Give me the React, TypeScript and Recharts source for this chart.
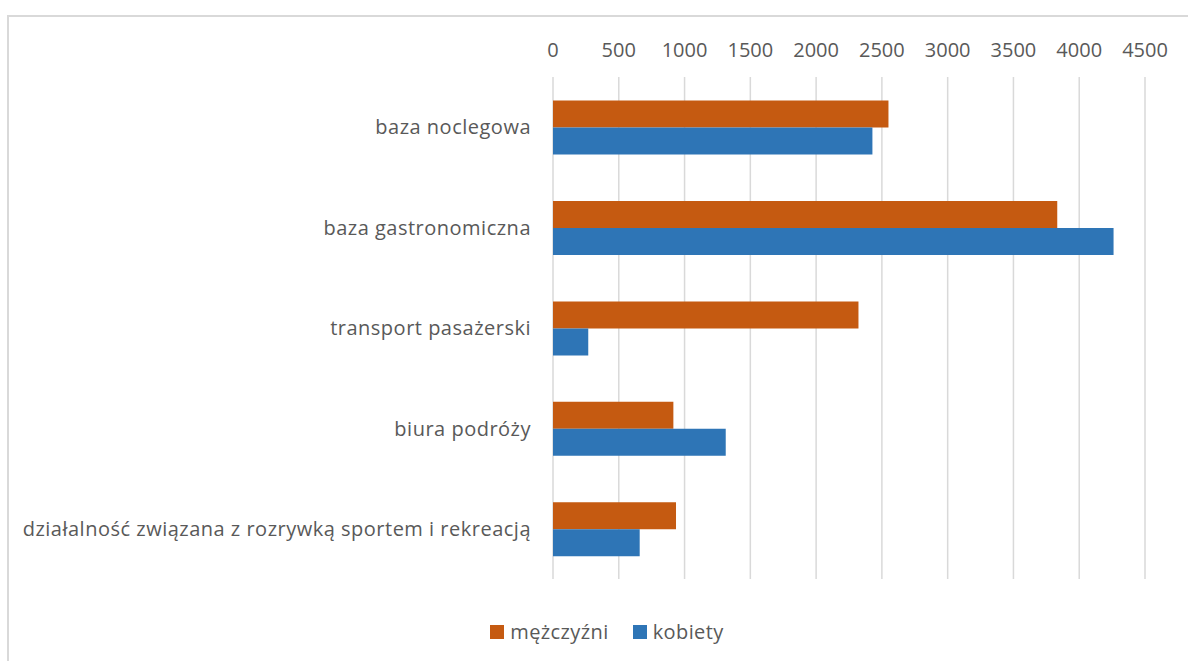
import React from "react";
import { BarChart, Bar, XAxis, YAxis, CartesianGrid } from "recharts";

const categories = [
  "baza noclegowa",
  "baza gastronomiczna",
  "transport pasażerski",
  "biura podróży",
  "działalność związana z rozrywką sportem i rekreacją",
];
const mezczyzni = [2550, 3833, 2322, 915, 935];
const kobiety = [2428, 4261, 268, 1313, 659];
const xTicks = [0, 500, 1000, 1500, 2000, 2500, 3000, 3500, 4000, 4500];
const seriesNames = ["mężczyźni", "kobiety"];

const ORANGE = "#C55A11";
const BLUE = "#2E75B6";
const TEXT = "#595959";
const FONT = "'Open Sans', sans-serif";

const data = categories.map((name, i) => ({
  name,
  [seriesNames[0]]: mezczyzni[i],
  [seriesNames[1]]: kobiety[i],
}));

function ChartLegend() {
  const colors = [ORANGE, BLUE];
  return (
    <div
      style={{
        position: "absolute",
        top: 603,
        left: 0,
        width: 1196,
        display: "flex",
        justifyContent: "center",
        fontFamily: FONT,
        fontSize: 20,
        letterSpacing: 0.4,
        color: TEXT,
        lineHeight: "24px",
      }}
    >
      {seriesNames.map((label, i) => (
        <div key={label} style={{ display: "flex", alignItems: "center", marginLeft: i ? 24 : 0 }}>
          <span style={{ width: 14, height: 14, background: colors[i], marginRight: 6, display: "inline-block" }} />
          <span>{label}</span>
        </div>
      ))}
    </div>
  );
}

export default function App() {
  return (
    <div
      style={{
        position: "absolute",
        left: 7,
        top: 15,
        width: 1181,
        height: 646,
        borderTop: "2px solid #d9d9d9",
        borderLeft: "2px solid #d9d9d9",
        overflow: "hidden",
        background: "#fff",
      }}
    >
      <BarChart
        width={1200}
        height={680}
        data={data}
        layout="vertical"
        margin={{ top: 20, right: 64, bottom: 118, left: 0 }}
        barCategoryGap="23.5%"
        barGap={0}
      >
        <CartesianGrid horizontal={false} stroke="#d9d9d9" strokeWidth={1.5} />
        <XAxis
          type="number"
          orientation="top"
          domain={[0, 4500]}
          ticks={xTicks}
          height={40}
          axisLine={false}
          tickLine={false}
          tickSize={0}
          tickMargin={20}
          tick={{ fontSize: 20, fill: TEXT, fontFamily: FONT }}
        />
        <YAxis
          type="category"
          dataKey="name"
          width={544}
          axisLine={false}
          tickLine={false}
          tickSize={0}
          tickMargin={22}
          tick={{ fontSize: 20, fill: TEXT, fontFamily: FONT, letterSpacing: 0.5 }}
        />
        <Bar dataKey={seriesNames[0]} fill={ORANGE} isAnimationActive={false} />
        <Bar dataKey={seriesNames[1]} fill={BLUE} isAnimationActive={false} />
      </BarChart>
      <ChartLegend />
    </div>
  );
}
